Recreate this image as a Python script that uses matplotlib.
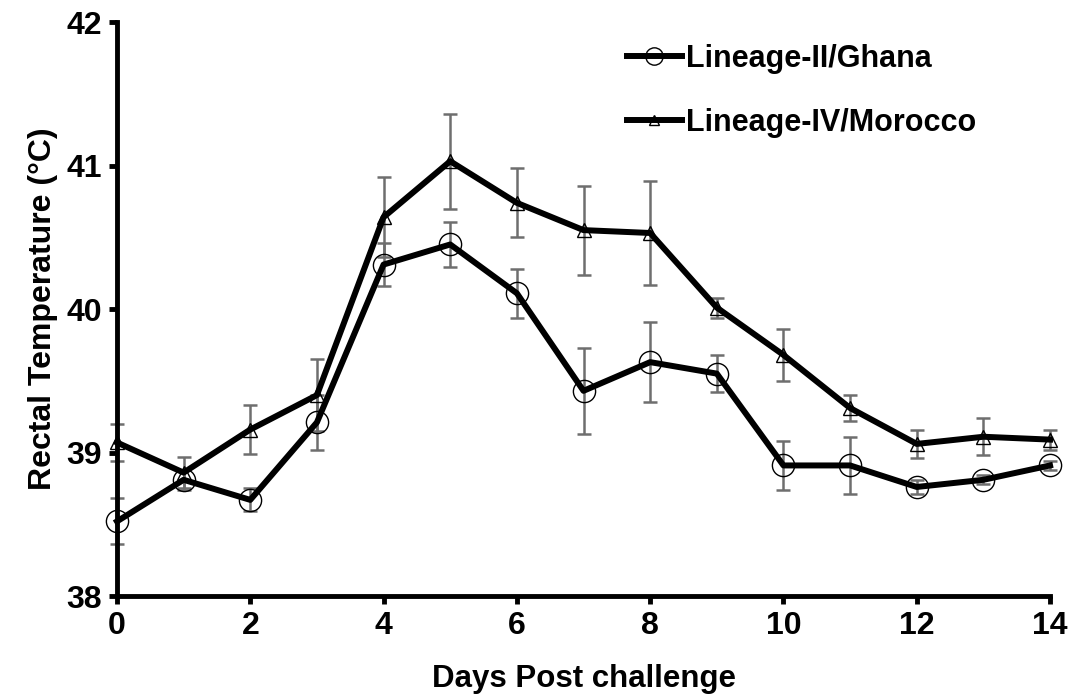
import numpy as np
import matplotlib
matplotlib.use('Agg')
import matplotlib.pyplot as plt

plt.rcParams['font.family'] = ['Liberation Sans', 'DejaVu Sans']
plt.rcParams['font.weight'] = 'bold'

# days post challenge
days = np.arange(0, 15)
# Lineage-II/Ghana
ghana = [38.52, 38.81, 38.67, 39.21, 40.31, 40.45, 40.11, 39.43, 39.63, 39.55,
         38.91, 38.91, 38.76, 38.81, 38.91]
ghana_err = [0.16, 0.07, 0.08, 0.19, 0.15, 0.16, 0.17, 0.30, 0.28, 0.13,
             0.17, 0.20, 0.05, 0.03, 0.03]
# Lineage-IV/Morocco
morocco = [39.07, 38.86, 39.16, 39.40, 40.64, 41.03, 40.74, 40.55, 40.53, 40.01,
           39.68, 39.31, 39.06, 39.11, 39.09]
morocco_err = [0.13, 0.11, 0.17, 0.25, 0.28, 0.33, 0.24, 0.31, 0.36, 0.07,
               0.18, 0.09, 0.10, 0.13, 0.07]

fig = plt.figure(figsize=(10.75, 6.98), dpi=100)
ax = fig.add_axes([0.1088, 0.1461, 0.868, 0.8223])

# error bars (grey, behind the lines)
ax.errorbar(days, ghana, yerr=ghana_err, fmt='none', ecolor='#6e6e6e',
            elinewidth=1.8, capsize=4.8, capthick=1.8, zorder=2, clip_on=False)
ax.errorbar(days, morocco, yerr=morocco_err, fmt='none', ecolor='#6e6e6e',
            elinewidth=1.8, capsize=4.8, capthick=1.8, zorder=2, clip_on=False)

ax.plot(days, ghana, color='black', lw=4.3, marker='o', ms=16, mfc='none',
        mec='black', mew=1, label='Lineage-II/Ghana', zorder=3, clip_on=False)
ax.plot(days, morocco, color='black', lw=4.3, marker='^', ms=10, mfc='none',
        mec='black', mew=1, label='Lineage-IV/Morocco', zorder=3, clip_on=False)

ax.set_xlim(0, 14)
ax.set_ylim(38, 42)
ax.set_xticks(np.arange(0, 15, 2))
ax.set_yticks([38, 39, 40, 41, 42])

for s in ['top', 'right']:
    ax.spines[s].set_visible(False)
for s in ['left', 'bottom']:
    ax.spines[s].set_linewidth(3.5)
ax.tick_params(axis='both', direction='out', width=3.5, length=6,
               labelsize=23, pad=5)

ax.set_xlabel('Days Post challenge', fontsize=22.5, fontweight='bold', labelpad=16)
ax.set_ylabel('Rectal Temperature (\u00b0C)', fontsize=23, fontweight='bold', labelpad=6)

ax.legend(loc='upper left', bbox_to_anchor=(0.583, 0.937),
          bbox_transform=fig.transFigure, frameon=False, fontsize=22,
          handlelength=1.8, handletextpad=0.15, labelspacing=1.1,
          markerscale=0.78, borderpad=0, borderaxespad=0)

fig.savefig('out.png', dpi=100)
